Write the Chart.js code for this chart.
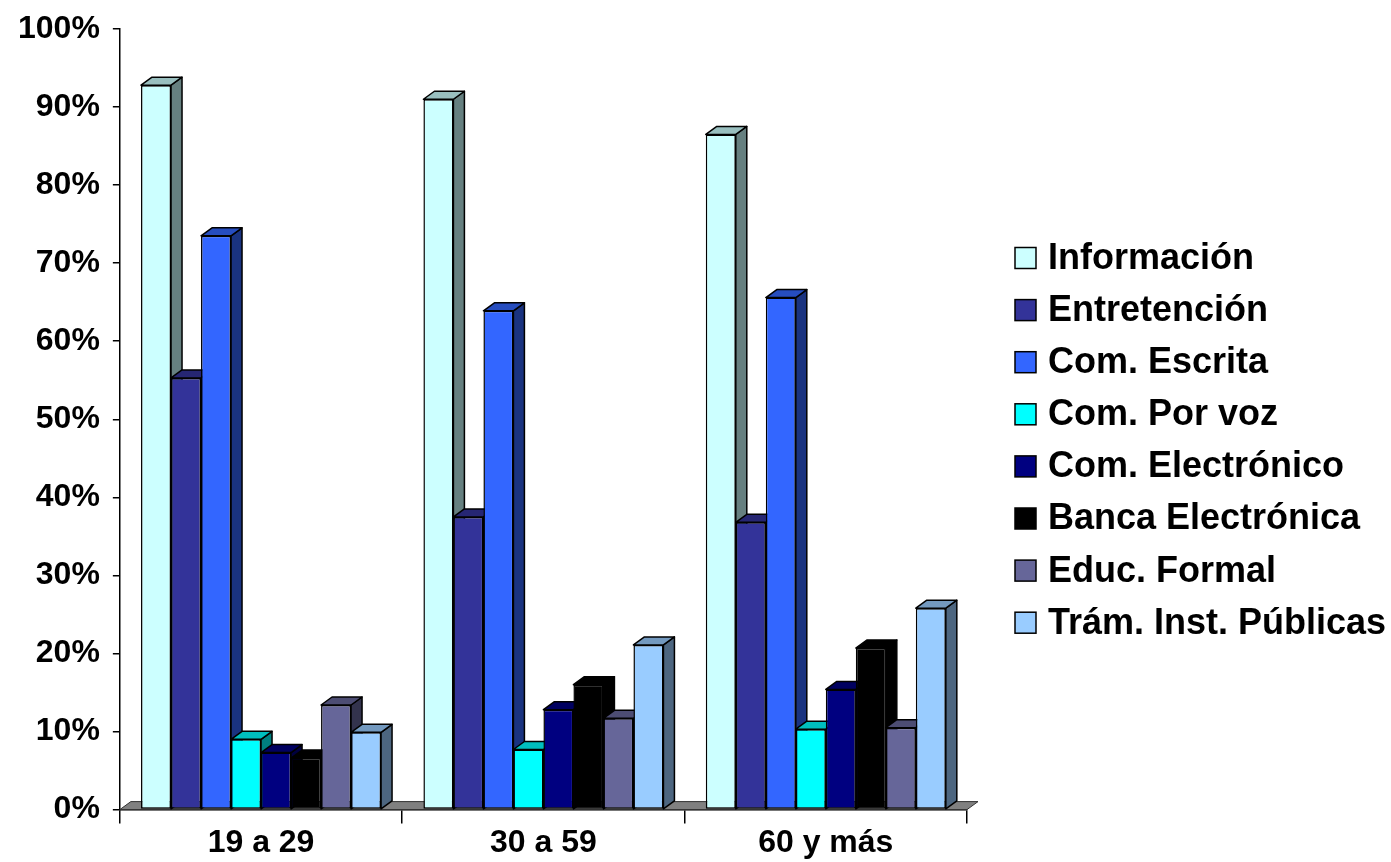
<!DOCTYPE html>
<html>
<head>
<meta charset="utf-8">
<script src="https://cdn.jsdelivr.net/npm/chart.js@4/dist/chart.umd.min.js"></script>
<style>
  html, body { margin: 0; padding: 0; background: #fff; }
  #wrap { width: 1391px; height: 862px; }
</style>
</head>
<body>
<div id="wrap"><canvas id="usoChart" width="1391" height="862"></canvas></div>
<script>
// datos del grafico
const categorias = ['19 a 29', '30 a 59', '60 y más'];
const series = ['Información', 'Entretención', 'Com. Escrita', 'Com. Por voz', 'Com. Electrónico', 'Banca Electrónica', 'Educ. Formal', 'Trám. Inst. Públicas'];
const informacion = [92.8, 91.0, 86.5];
const entretencion = [55.3, 37.5, 36.8];
const comEscrita = [73.5, 63.9, 65.6];
const comVoz = [9.0, 7.7, 10.3];
const comElectronico = [7.3, 12.8, 15.4];
const bancaElectronica = [6.6, 16.0, 20.7];
const educFormal = [13.4, 11.7, 10.5];
const tramites = [9.9, 21.1, 25.8];
const yTicks = [0, 10, 20, 30, 40, 50, 60, 70, 80, 90, 100];

const valores = [informacion, entretencion, comEscrita, comVoz, comElectronico, bancaElectronica, educFormal, tramites];
const colores = ['#CCFFFF', '#333399', '#3366FF', '#00FFFF', '#000080', '#000000', '#666699', '#99CCFF'];

const DX = 11, DY = 8;

function shade(hex, f) {
  const n = parseInt(hex.slice(1), 16);
  const r = Math.round(((n >> 16) & 255) * f);
  const g = Math.round(((n >> 8) & 255) * f);
  const b = Math.round((n & 255) * f);
  return `rgb(${r},${g},${b})`;
}

function poly(ctx, pts, fill) {
  ctx.beginPath();
  ctx.moveTo(pts[0][0], pts[0][1]);
  for (let i = 1; i < pts.length; i++) ctx.lineTo(pts[i][0], pts[i][1]);
  ctx.closePath();
  ctx.fillStyle = fill;
  ctx.fill();
  ctx.stroke();
}

// caras laterales y superiores (efecto 3D)
const bar3d = {
  id: 'bar3d',
  beforeDatasetsDraw(chart) {
    const ctx = chart.ctx;
    const { left, right, bottom } = chart.chartArea;
    ctx.save();
    ctx.lineJoin = 'round';
    // piso
    ctx.strokeStyle = '#333';
    ctx.lineWidth = 1;
    poly(ctx, [[left, bottom], [right, bottom], [right + DX, bottom - DY], [left + DX, bottom - DY]], '#808080');
    ctx.strokeStyle = '#000';
    ctx.lineWidth = 1.5;
    chart.data.datasets.forEach((ds, i) => {
      const meta = chart.getDatasetMeta(i);
      meta.data.forEach(bar => {
        const { x, y, base, width } = bar.getProps(['x', 'y', 'base', 'width'], true);
        const l = x - width / 2, r = x + width / 2;
        poly(ctx, [[r, y], [r + DX, y - DY], [r + DX, base - DY], [r, base]], shade(colores[i], 0.5));
        poly(ctx, [[l, y], [l + DX, y - DY], [r + DX, y - DY], [r, y]], shade(colores[i], 0.75));
      });
    });
    ctx.restore();
  }
};

// leyenda a la derecha
const leyenda = {
  id: 'leyenda',
  afterDraw(chart) {
    const ctx = chart.ctx;
    ctx.save();
    ctx.font = 'bold 36px "Liberation Sans", Arial, sans-serif';
    ctx.textBaseline = 'middle';
    ctx.textAlign = 'left';
    chart.data.datasets.forEach((ds, i) => {
      const cy = 258 + i * 52.1;
      ctx.fillStyle = ds.backgroundColor;
      ctx.fillRect(1015, cy - 10.5, 21, 21);
      ctx.strokeStyle = '#000';
      ctx.lineWidth = 1.5;
      ctx.strokeRect(1015, cy - 10.5, 21, 21);
      ctx.fillStyle = '#000';
      ctx.fillText(ds.label, 1048, cy + 1);
    });
    ctx.restore();
  }
};

const ctx = document.getElementById('usoChart').getContext('2d');
new Chart(ctx, {
  type: 'bar',
  data: {
    labels: categorias,
    datasets: series.map((s, i) => ({
      label: s,
      data: valores[i],
      backgroundColor: colores[i],
      borderColor: '#000',
      borderWidth: 1.5,
      borderSkipped: false
    }))
  },
  options: {
    responsive: false,
    animation: false,
    events: [],
    categoryPercentage: 0.85,
    barPercentage: 1,
    layout: { padding: { left: 5, right: 424, top: 27, bottom: 0 } },
    plugins: { legend: { display: false }, tooltip: { enabled: false } },
    scales: {
      x: {
        grid: { display: true, drawOnChartArea: false, tickLength: 14, color: '#000', lineWidth: 1.5, offset: true },
        border: { display: true, color: '#000', width: 1.5 },
        ticks: { color: '#000', padding: 0, font: { family: '"Liberation Sans", Arial, sans-serif', size: 32, weight: 'bold' } }
      },
      y: {
        min: 0,
        max: 100,
        afterBuildTicks: axis => { axis.ticks = yTicks.map(v => ({ value: v })); },
        grid: { display: true, drawOnChartArea: false, tickLength: 7, color: '#000', lineWidth: 1.5 },
        border: { display: true, color: '#000', width: 1.5 },
        ticks: { color: '#000', padding: 13, font: { family: '"Liberation Sans", Arial, sans-serif', size: 32, weight: 'bold', lineHeight: 1 }, callback: v => v + '%' }
      }
    }
  },
  plugins: [bar3d, leyenda]
});
</script>
</body>
</html>
